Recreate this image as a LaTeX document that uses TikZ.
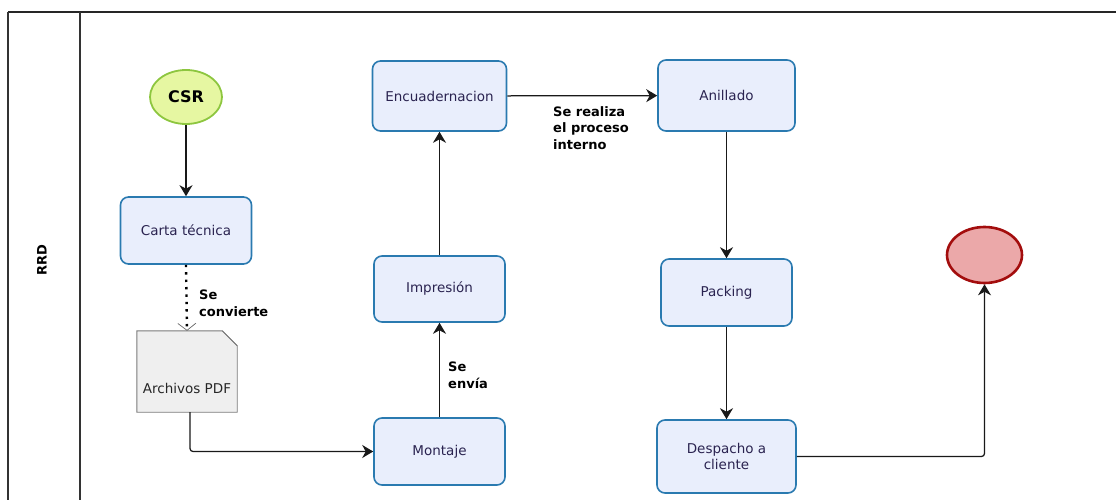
\documentclass[tikz,border=0pt]{standalone}
\usepackage{fontspec}
\setmainfont{DejaVu Sans}
\usetikzlibrary{shapes.geometric,arrows.meta}

\definecolor{taskfill}{HTML}{E9EEFC}
\definecolor{taskline}{HTML}{2A7AB0}
\definecolor{tasktext}{HTML}{2A2350}
\definecolor{startfill}{HTML}{E6F7A2}
\definecolor{startline}{HTML}{8DC63F}
\definecolor{endfill}{HTML}{EBA8A9}
\definecolor{endline}{HTML}{A30D0D}
\definecolor{docfill}{HTML}{EFEFEF}
\definecolor{docline}{HTML}{7A7A7A}

\tikzset{
  task/.style={draw=taskline, fill=taskfill, line width=1.6pt, rounded corners=8pt,
    text=tasktext, font=\fontsize{13.5}{16}\selectfont, align=center, inner sep=0pt},
  flow/.style={draw=black!90, line width=1.25pt,
    -{Stealth[length=11pt, width=13pt, inset=3.5pt]}},
  assoc/.style={draw=black, line width=2.4pt, dash pattern=on 2.4pt off 5pt,
    -{Straight Barb[length=7pt, width=18pt, line width=0.7pt, black!60]}},
  edgetext/.style={font=\bfseries\fontsize{13}{16.5}\selectfont, align=left, anchor=north west, inner sep=0pt},
}

\begin{document}
\begin{tikzpicture}[x=1pt, y=-1pt]
  \useasboundingbox (0,0) rectangle (1116,500);

  % pool and lane header
  \draw[line width=2pt, black!85] (8,12) -- (1118,12);
  \draw[line width=1.1pt, black!80] (8,12) -- (8,502);
  \draw[line width=1.1pt, black!80] (80,12) -- (80,502);
  \node[rotate=90, font=\bfseries\fontsize{13}{15}\selectfont] (lane) at (42,260) {RRD};

  % events
  \node[ellipse, draw=startline, fill=startfill, line width=1.8pt,
        minimum width=72pt, minimum height=54pt, inner sep=0pt,
        font=\bfseries\fontsize{16}{18}\selectfont] (csr) at (186,97) {CSR};
  \node[ellipse, draw=endline, fill=endfill, line width=2.6pt,
        minimum width=75pt, minimum height=56pt, inner sep=0pt] (fin) at (984.5,255) {};

  % tasks
  \node[task, minimum width=131pt, minimum height=67pt] (carta)    at (186,230.5) {Carta técnica};
  \node[task, minimum width=131pt, minimum height=67pt] (montaje)  at (439.5,451.5) {Montaje};
  \node[task, minimum width=131pt, minimum height=66pt] (impresion) at (439.5,289) {Impresión};
  \node[task, minimum width=134pt, minimum height=70pt] (encuad)   at (439.5,96) {Encuadernacion};
  \node[task, minimum width=137pt, minimum height=71pt] (anillado) at (726.5,95.5) {Anillado};
  \node[task, minimum width=131pt, minimum height=67pt] (packing)  at (726.5,292.5) {Packing};
  \node[task, minimum width=139pt, minimum height=73pt] (despacho) at (726.5,456.5) {Despacho a\\cliente};

  % data object with folded corner
  \node[minimum width=100pt, minimum height=81pt, inner sep=0pt] (pdf) at (187,371.5) {};
  \draw[fill=docfill, draw=docline, line width=0.9pt]
    (pdf.north west) -- ([xshift=-15pt]pdf.north east) -- ([yshift=-15pt]pdf.north east)
    -- (pdf.south east) -- (pdf.south west) -- cycle;
  \draw[draw=docline, line width=0.7pt]
    ([xshift=-15pt]pdf.north east) -- ([yshift=-15pt]pdf.north east);
  \node[font=\fontsize{13.5}{16}\selectfont, text=black!85] (pdftext) at ([yshift=-17pt]pdf.center) {Archivos PDF};

  % connectors
  \draw[flow] (csr) -- (carta);
  \draw[assoc] (carta.south) -- (pdf.north);
  \draw[flow, rounded corners=3pt] ([xshift=3pt]pdf.south) |- (montaje.west);
  \draw[flow] (montaje) -- (impresion);
  \draw[flow] (impresion) -- (encuad);
  \draw[flow] (encuad) -- (anillado);
  \draw[flow] (anillado) -- (packing);
  \draw[flow] (packing) -- (despacho);
  \draw[flow, rounded corners=3pt] (despacho.east) -| (fin.south);

  % connector labels
  \node[edgetext] (lblconv) at (199,290) {Se\\convierte};
  \node[edgetext] (lblenv)  at (448,362) {Se\\envía};
  \node[edgetext] (lblproc) at (553,106) {Se realiza\\el proceso\\interno};
\end{tikzpicture}
\end{document}
